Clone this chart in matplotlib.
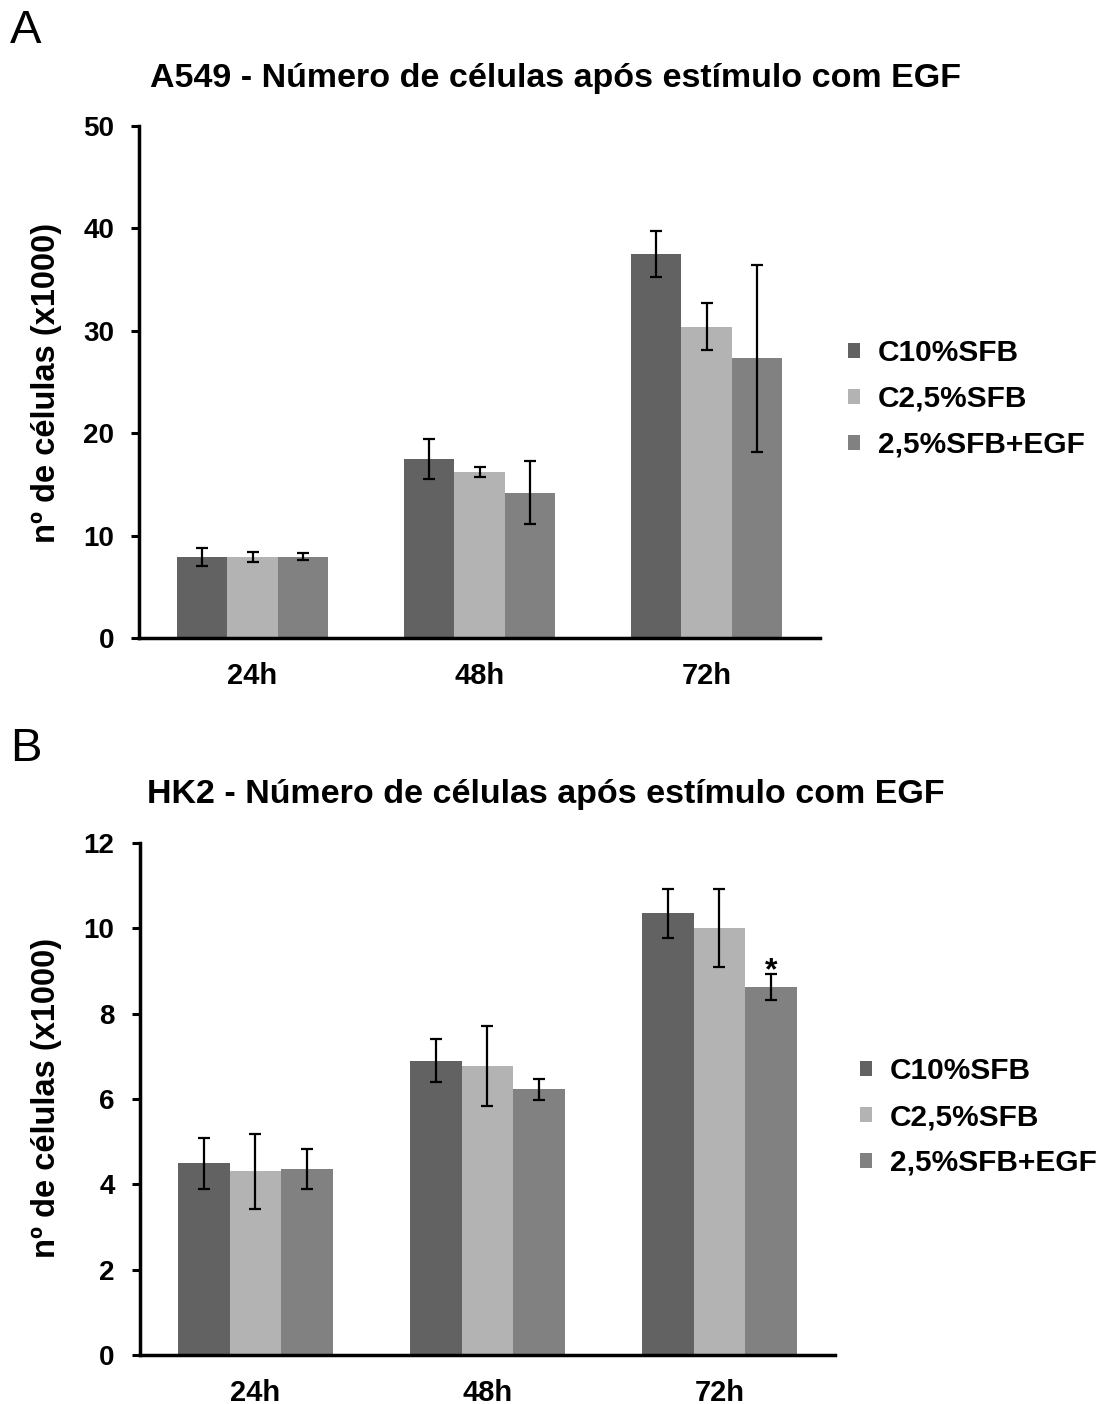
import numpy as np
import matplotlib
matplotlib.use("Agg")
import matplotlib.pyplot as plt

plt.rcParams['font.family'] = ['Liberation Sans', 'DejaVu Sans']

times = ['24h', '48h', '72h']
groups = ['C10%SFB', 'C2,5%SFB', '2,5%SFB+EGF']
colors = ['#626262', '#b3b3b3', '#818181']

# A549 (x1000)
a549_mean = [[7.94, 17.48, 37.5], [7.94, 16.24, 30.4], [7.94, 14.19, 27.3]]
a549_err = [[0.88, 1.95, 2.2], [0.49, 0.5, 2.3], [0.33, 3.06, 9.15]]

# HK2 (x1000)
hk2_mean = [[4.49, 6.90, 10.35], [4.31, 6.78, 10.01], [4.35, 6.23, 8.62]]
hk2_err = [[0.6, 0.51, 0.58], [0.88, 0.94, 0.92], [0.47, 0.25, 0.31]]

W, H = 1107, 1404
fig = plt.figure(figsize=(W / 100, H / 100), dpi=100)


def draw_panel(rect, means, errs, ylim, yticks, title, title_xy, label_y, legend_xy):
    ax = fig.add_axes(rect)
    x = np.arange(len(times))
    bw = 0.223
    handles = []
    for i, g in enumerate(groups):
        b = ax.bar(x + (i - 1) * bw, means[i], width=bw, color=colors[i], label=g,
                   yerr=errs[i], capsize=4,
                   error_kw=dict(ecolor='black', elinewidth=1.6, capthick=1.6))
        handles.append(b)
    ax.set_xlim(-0.5, 2.5)
    ax.set_ylim(*ylim)
    ax.set_yticks(yticks)
    ax.set_xticks(x)
    ax.set_xticklabels(times, fontsize=21, fontweight='bold')
    ax.set_yticklabels([str(t) for t in yticks], fontsize=20, fontweight='bold')
    ax.tick_params(axis='x', length=0, pad=17)
    ax.tick_params(axis='y', length=6, width=2.2, pad=12)
    for s in ['top', 'right']:
        ax.spines[s].set_visible(False)
    for s in ['left', 'bottom']:
        ax.spines[s].set_linewidth(2.5)
    ax.set_ylabel('nº de células (x1000)', fontsize=23.5, fontweight='bold')
    ax.yaxis.set_label_coords(62 / W, 1 - label_y / H, transform=fig.transFigure)
    fig.text(title_xy[0] / W, 1 - title_xy[1] / H, title, fontsize=24.5,
             fontweight='bold', ha='center', va='center')
    ax.legend(handles=handles, loc='center left',
              bbox_to_anchor=(legend_xy[0] / W, 1 - legend_xy[1] / H),
              bbox_transform=fig.transFigure, frameon=False, borderpad=0,
              borderaxespad=0, handlelength=0.4, handleheight=0.4,
              handletextpad=0.6, labelspacing=0.6,
              prop={'weight': 'bold', 'size': 21.5})
    return ax


axA = draw_panel([139 / W, 1 - 638 / H, (820 - 139) / W, (638 - 126) / H],
                 a549_mean, a549_err, (0, 50), [0, 10, 20, 30, 40, 50],
                 'A549 - Número de células após estímulo com EGF', (555, 78), 383,
                 (848, 399))

axB = draw_panel([139.5 / W, 1 - 1355 / H, (835.5 - 139.5) / W, (1355 - 843) / H],
                 hk2_mean, hk2_err, (0, 12), [0, 2, 4, 6, 8, 10, 12],
                 'HK2 - Número de células após estímulo com EGF', (546, 795), 1098,
                 (860, 1117))

# significance mark above the 72h EGF bar
axB.annotate('*', xy=(2 + 0.223, hk2_mean[2][2] + hk2_err[2][2]), xytext=(0, -4),
             textcoords='offset points', fontsize=23, fontweight='bold',
             ha='center', va='baseline')

fig.text(10 / W, 1 - 31 / H, 'A', fontsize=34, ha='left', va='center')
fig.text(10 / W, 1 - 749 / H, 'B', fontsize=34, ha='left', va='center')

fig.savefig('out.png', dpi=100)
